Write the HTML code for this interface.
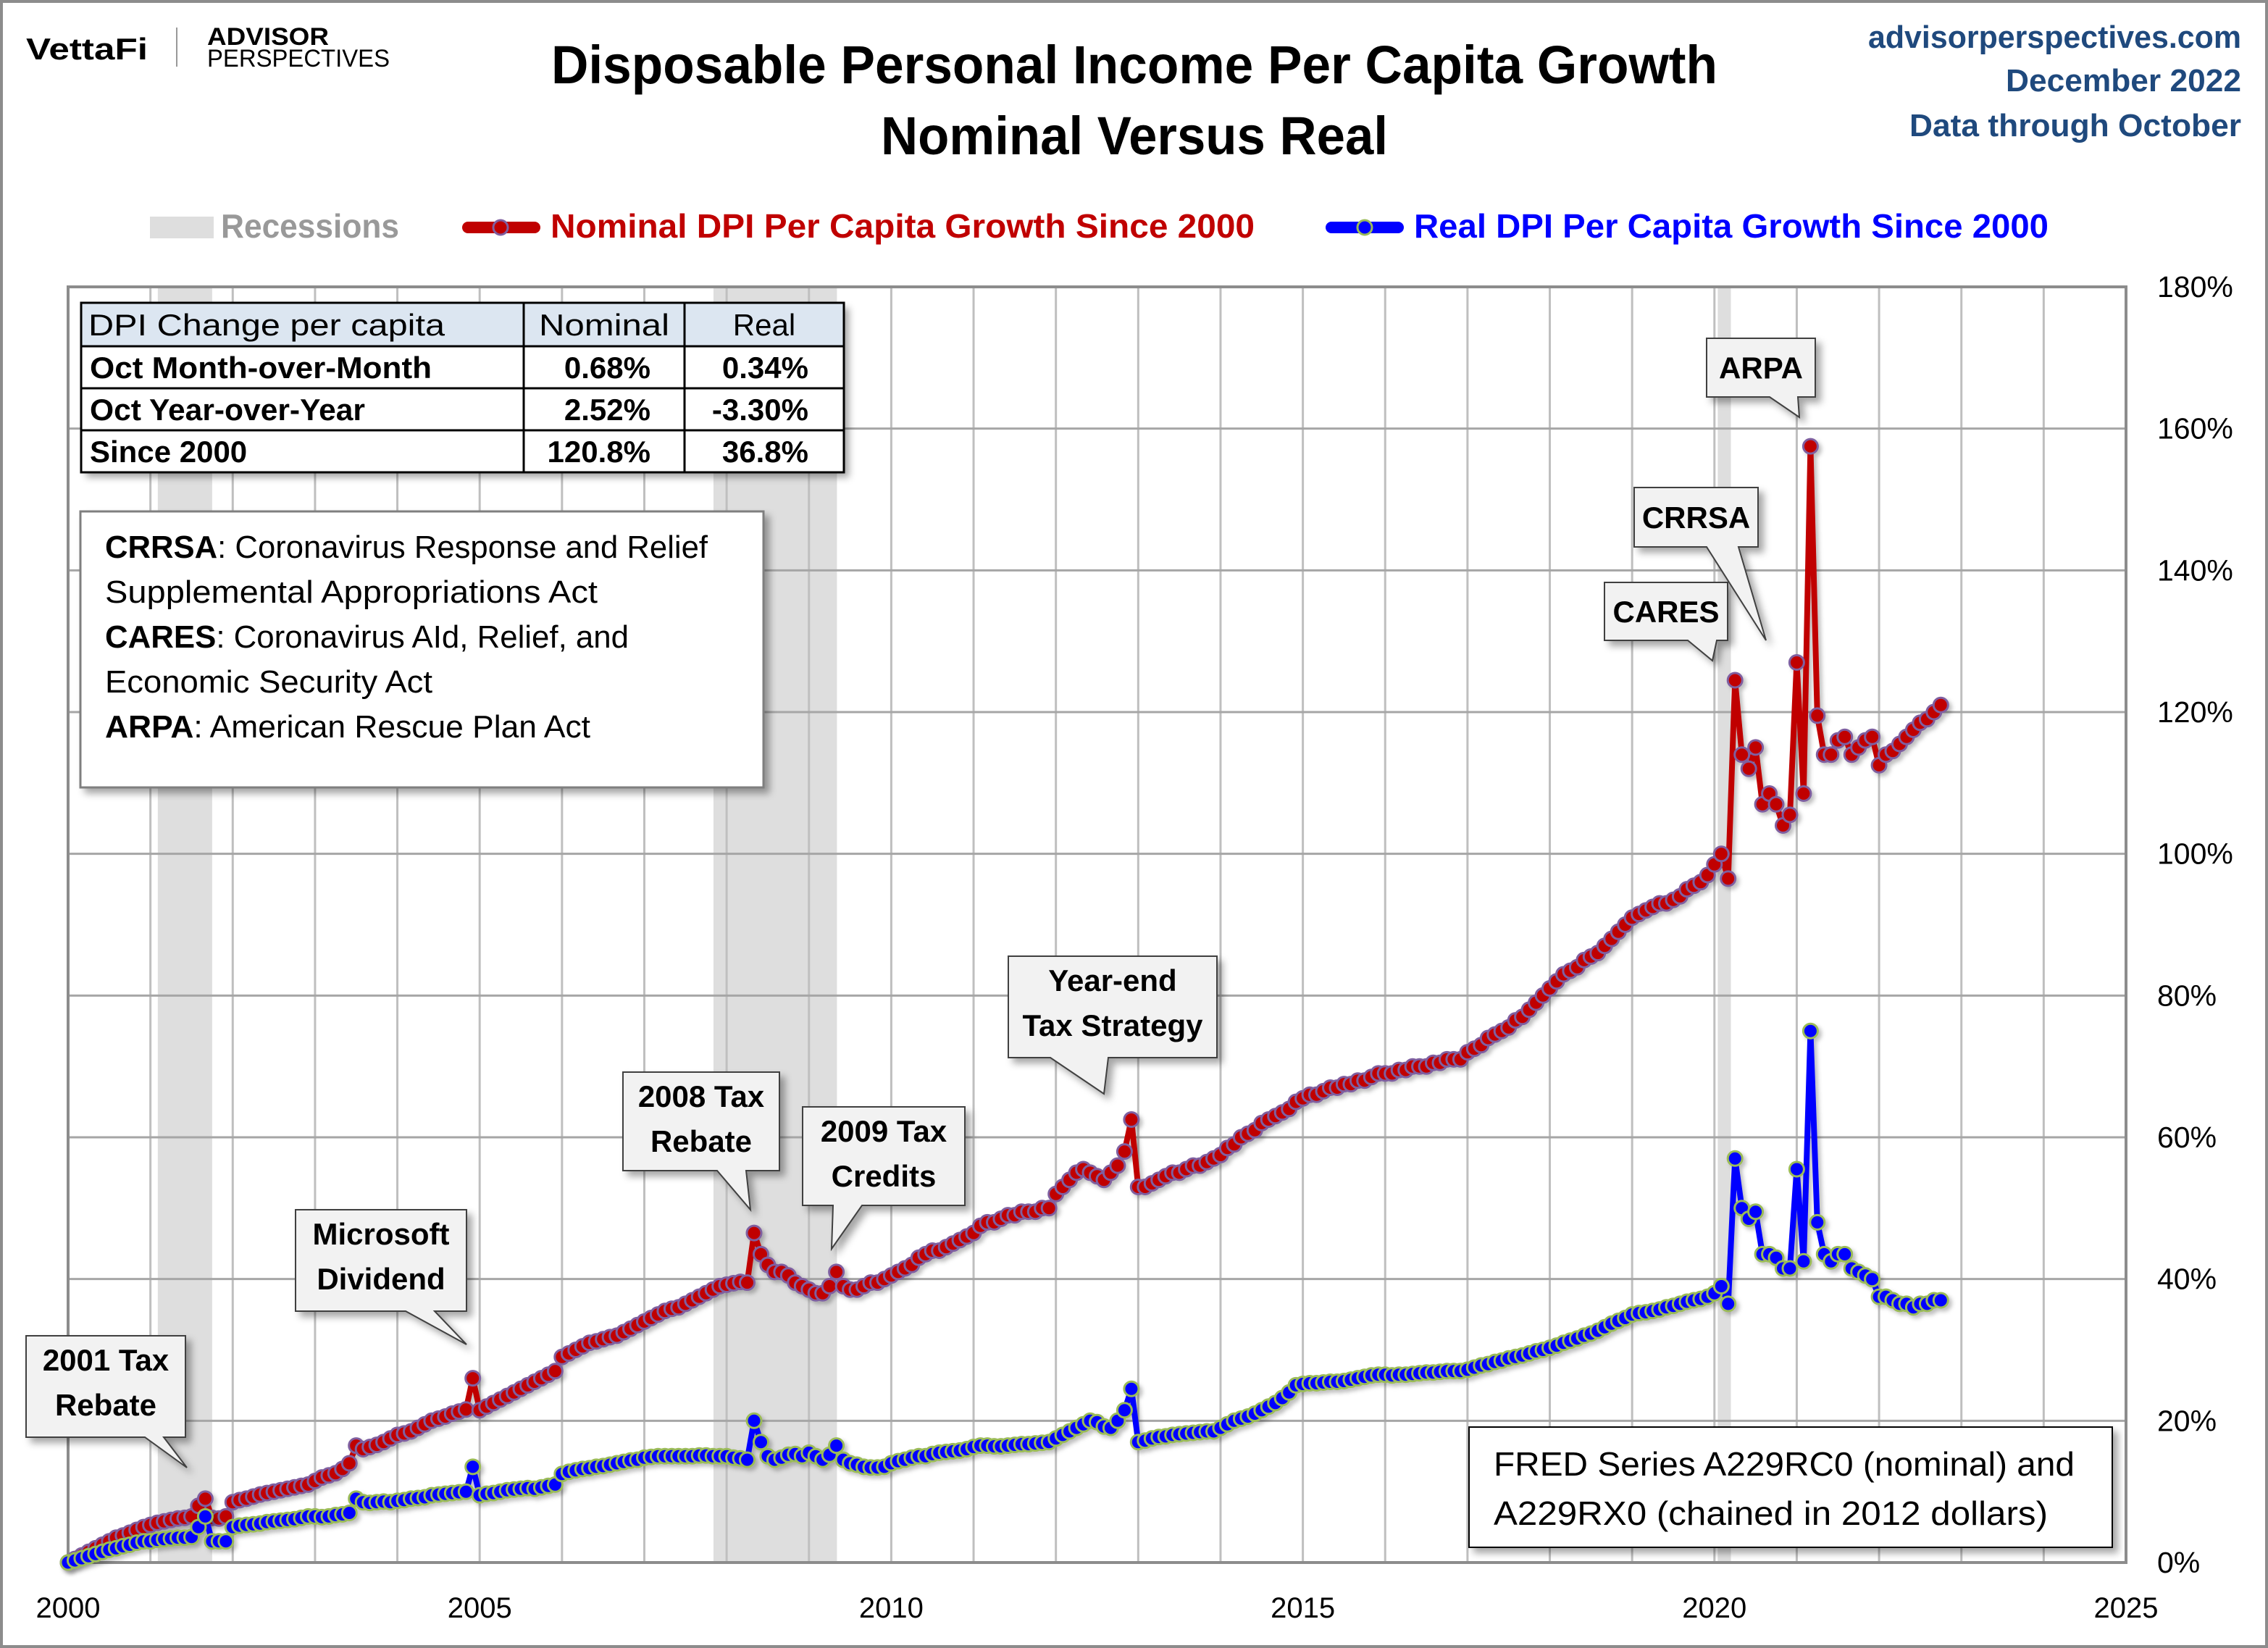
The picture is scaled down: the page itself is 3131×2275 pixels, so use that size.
<!DOCTYPE html>
<html><head><meta charset="utf-8"><style>
html,body{margin:0;padding:0;background:#fff}
svg{display:block}
text{font-family:"Liberation Sans",sans-serif}
</style></head><body>
<svg id="chart" width="3131" height="2275" viewBox="0 0 3131 2275" xmlns="http://www.w3.org/2000/svg">
<defs>
<filter id="sh" x="-10%" y="-10%" width="130%" height="130%"><feDropShadow dx="7" dy="7" stdDeviation="5" flood-color="#000" flood-opacity="0.35"/></filter>
<filter id="lsh" x="-5%" y="-5%" width="110%" height="110%"><feDropShadow dx="4" dy="4" stdDeviation="3" flood-color="#000" flood-opacity="0.25"/></filter>
</defs>
<rect x="2" y="2" width="3127" height="2271" fill="#fff" stroke="#8c8c8c" stroke-width="4"/>
<g>
<text x="36" y="82" font-size="42" font-weight="bold" textLength="168" lengthAdjust="spacingAndGlyphs">VettaFi</text>
<line x1="244" y1="38" x2="244" y2="92" stroke="#999" stroke-width="2"/>
<text x="286" y="62" font-size="34" font-weight="bold" textLength="168" lengthAdjust="spacingAndGlyphs">ADVISOR</text>
<text x="286" y="92" font-size="34" textLength="252" lengthAdjust="spacingAndGlyphs">PERSPECTIVES</text>
</g>
<text x="1566" y="115" font-size="74" font-weight="bold" text-anchor="middle" textLength="1610" lengthAdjust="spacingAndGlyphs">Disposable Personal Income Per Capita Growth</text>
<text x="1566" y="213" font-size="74" font-weight="bold" text-anchor="middle" textLength="700" lengthAdjust="spacingAndGlyphs">Nominal Versus Real</text>
<g fill="#1f497d" font-weight="bold" font-size="44" text-anchor="end">
<text x="3094" y="66" textLength="515" lengthAdjust="spacingAndGlyphs">advisorperspectives.com</text>
<text x="3094" y="126" textLength="325" lengthAdjust="spacingAndGlyphs">December 2022</text>
<text x="3094" y="188" textLength="458" lengthAdjust="spacingAndGlyphs">Data through October</text>
</g>
<g>
<g>
<rect x="207" y="299" width="88" height="30" fill="#dedede"/>
<text x="305" y="328" font-size="46" font-weight="bold" fill="#999" textLength="246" lengthAdjust="spacingAndGlyphs">Recessions</text></g>
<g>
<line x1="646" y1="314" x2="738" y2="314" stroke="#c00000" stroke-width="16" stroke-linecap="round"/>
<circle cx="691" cy="314" r="10" fill="#c00000" stroke="#7f5fa0" stroke-width="3"/>
<text x="760" y="328" font-size="46" font-weight="bold" fill="#c00000" textLength="972" lengthAdjust="spacingAndGlyphs">Nominal DPI Per Capita Growth Since 2000</text></g>
<g>
<line x1="1838" y1="314" x2="1930" y2="314" stroke="#0000ff" stroke-width="16" stroke-linecap="round"/>
<circle cx="1884" cy="314" r="10" fill="#0000ff" stroke="#9bbb59" stroke-width="3"/>
<text x="1952" y="328" font-size="46" font-weight="bold" fill="#0000ff" textLength="876" lengthAdjust="spacingAndGlyphs">Real DPI Per Capita Growth Since 2000</text></g>
</g>
<g id="rec"></g>
<g id="grid"></g>
<g id="axes"></g>
<g id="series"></g>
<g font-size="42" font-weight="bold">
<rect x="112" y="418" width="1053" height="234" fill="#fff" filter="url(#sh)"/>
<rect x="112" y="418" width="1053" height="60" fill="#dce6f1"/>
<g stroke="#000" stroke-width="3" fill="none">
<rect x="112" y="418" width="1053" height="234"/>
<line x1="112" y1="478" x2="1165" y2="478"/><line x1="112" y1="536" x2="1165" y2="536"/><line x1="112" y1="594" x2="1165" y2="594"/>
<line x1="723" y1="418" x2="723" y2="652"/><line x1="945" y1="418" x2="945" y2="652"/>
</g>
<text x="122" y="463" font-weight="normal" fill="#000" textLength="492" lengthAdjust="spacingAndGlyphs">DPI Change per capita</text>
<text x="834" y="463" text-anchor="middle" font-weight="normal" textLength="180" lengthAdjust="spacingAndGlyphs">Nominal</text>
<text x="1055" y="463" text-anchor="middle" font-weight="normal">Real</text>
<text x="124" y="522" textLength="472" lengthAdjust="spacingAndGlyphs">Oct Month-over-Month</text>
<text x="898" y="522" text-anchor="end">0.68%</text><text x="1116" y="522" text-anchor="end">0.34%</text>
<text x="124" y="580" textLength="380" lengthAdjust="spacingAndGlyphs">Oct Year-over-Year</text>
<text x="898" y="580" text-anchor="end">2.52%</text><text x="1116" y="580" text-anchor="end">-3.30%</text>
<text x="124" y="638">Since 2000</text>
<text x="898" y="638" text-anchor="end">120.8%</text><text x="1116" y="638" text-anchor="end">36.8%</text>
</g>
<g font-size="44">
<rect x="111" y="706" width="943" height="381" fill="#fff" stroke="#7f7f7f" stroke-width="3" filter="url(#sh)"/>
<text x="145" y="770" textLength="832" lengthAdjust="spacingAndGlyphs"><tspan font-weight="bold">CRRSA</tspan>: Coronavirus Response and Relief</text>
<text x="145" y="832" textLength="680" lengthAdjust="spacingAndGlyphs">Supplemental Appropriations Act</text>
<text x="145" y="894" textLength="723" lengthAdjust="spacingAndGlyphs"><tspan font-weight="bold">CARES</tspan>: Coronavirus AId, Relief, and</text>
<text x="145" y="956" textLength="452" lengthAdjust="spacingAndGlyphs">Economic Security Act</text>
<text x="145" y="1018" textLength="670" lengthAdjust="spacingAndGlyphs"><tspan font-weight="bold">ARPA</tspan>: American Rescue Plan Act</text>
</g>
<g font-size="46">
<rect x="2028" y="1970" width="888" height="166" fill="#fff" stroke="#000" stroke-width="2" filter="url(#sh)"/>
<text x="2062" y="2037" textLength="802" lengthAdjust="spacingAndGlyphs">FRED Series A229RC0 (nominal) and</text>
<text x="2062" y="2105" textLength="765" lengthAdjust="spacingAndGlyphs">A229RX0 (chained in 2012 dollars)</text>
</g>
<g id="callouts"></g>
</svg>
<script>
const nominalByYear = [
[0,0.5,1,1.5,2,2.5,3,3.5,3.8,4.2,4.6,5],
[5.3,5.6,5.8,6,6.2,6.3,6.5,8,9,6.3,6.2,6.5],
[8.5,8.8,9,9.3,9.6,9.8,10,10.2,10.4,10.6,10.8,11],
[11.5,12,12.3,12.6,13.2,14,16.5,16,16.3,16.6,17,17.5],
[18,18.2,18.5,19,19.5,20,20.3,20.6,21,21.3,21.6,26],
[21.5,22,22.5,23,23.5,24,24.5,25,25.5,26,26.5,27],
[29,29.5,30,30.5,31,31.2,31.5,31.8,32,32.5,33,33.5],
[34,34.5,35,35.5,35.8,36,36.5,37,37.5,38,38.5,39],
[39.2,39.4,39.6,39.5,46.5,43.5,42,41,41,40.5,39.5,39],
[38.5,38,38,39,41,39,38.5,38.5,39,39.5,39.5,40],
[40.5,41,41.5,42,43,43.5,44,44,44.5,45,45.5,46],
[46.5,47.5,48,48,48.5,49,49,49.5,49.5,49.5,50,50],
[52,53,54,55,55.5,55,54.5,54,55,56,58,62.5],
[53,53,53.5,54,54.5,55,55,55.5,56,56,56.5,57],
[57.5,58.5,59,60,60.5,61,62,62.5,63,63.5,64,65],
[65.5,66,66,66.5,67,67,67.5,67.5,68,68,68.5,69],
[69,69,69.5,69.5,70,70,70,70.5,70.5,71,71,71],
[72,72.5,73,74,74.5,75,75.5,76.5,77,78,79,80],
[81,82,83,83.5,84,85,85.5,86,87,88,89,90],
[91,91.5,92,92.5,93,93,93.5,94,95,95.5,96,97],
[98.5,100,96.5,124.5,114,112,115,107,108.5,107,104,105.5],
[127,108.5,157.5,119.5,114,114,116,116.5,114,115,116,116.5],
[112.5,114,114.5,115.5,116.5,117.5,118.5,119,120,121]
];
const realByYear = [
[0,0.3,0.6,0.9,1.2,1.5,1.8,2,2.3,2.5,2.8,3],
[3,3.2,3.3,3.4,3.5,3.5,3.6,5,6.5,3,3,3],
[5,5.2,5.3,5.4,5.5,5.7,5.8,5.9,6,6.1,6.3,6.5],
[6.5,6.4,6.5,6.7,6.8,7,9,8.5,8.4,8.5,8.6,8.5],
[8.7,8.8,9,9.1,9.2,9.5,9.6,9.7,9.8,9.9,10,13.5],
[9.5,9.7,9.8,10,10.2,10.3,10.4,10.5,10.4,10.6,10.8,11],
[12.5,12.8,13,13.2,13.3,13.5,13.6,13.8,14,14.2,14.4,14.5],
[14.8,14.9,15,15,15,15,15,15,15.1,15.1,15,15],
[15,14.8,14.7,14.5,20,17,15,14.5,14.8,15.2,15.3,15],
[15.5,15,14.5,15.2,16.5,14.5,14,13.8,13.5,13.4,13.4,13.5],
[14,14.3,14.5,14.8,15,15,15.3,15.5,15.6,15.7,15.8,16],
[16.3,16.5,16.5,16.4,16.4,16.5,16.6,16.7,16.7,16.8,16.9,17],
[17.5,18,18.5,19,19.5,20,19.8,19.2,19,20,21.5,24.5],
[17,17.2,17.5,17.7,17.8,18,18.1,18.2,18.3,18.4,18.5,18.5],
[19,19.5,20,20.3,20.6,21,21.5,22,22.5,23.2,24,25],
[25.2,25.3,25.3,25.4,25.5,25.5,25.6,25.8,26,26.2,26.4,26.5],
[26.5,26.4,26.5,26.5,26.6,26.7,26.8,26.8,26.9,27,27,27],
[27.2,27.5,27.8,28,28.3,28.5,28.8,29,29.2,29.5,29.8,30],
[30.3,30.6,31,31.3,31.6,32,32.3,32.7,33.2,33.7,34.1,34.5],
[35,35.2,35.3,35.5,35.7,36,36.2,36.5,36.8,37,37.2,37.5],
[38,39,36.5,57,50,48.5,49.5,43.5,43.5,43,41.5,41.5],
[55.5,42.5,75,48,43.5,42.5,43.5,43.5,41.5,41,40.5,40],
[37.5,37.5,37,36.5,36.5,36,36.5,36.5,37,37]
];
const startYear = 2000;
const xTickYears = [2000,2005,2010,2015,2020,2025];
const yTicks = [0,20,40,60,80,100,120,140,160,180];
const yTickLabels = ["0%","20%","40%","60%","80%","100%","120%","140%","160%","180%"];
const recessionStarts = [2001.09, 2007.84, 2020.04];
const recessionEnds = [2001.75, 2009.34, 2020.2];
const calloutLines = [["2001 Tax","Rebate"],["Microsoft","Dividend"],["2008 Tax","Rebate"],["2009 Tax","Credits"],["Year-end","Tax Strategy"],["CARES"],["CRRSA"],["ARPA"]];

const NS="http://www.w3.org/2000/svg";
const X0=94, X1=2935, Y0=2157, Y1=396;
const xMin=2000, xMax=2025, yMin=0, yMax=180;
function xs(t){return X0+(t-xMin)/(xMax-xMin)*(X1-X0);}
function ys(v){return Y0-(v-yMin)/(yMax-yMin)*(Y0-Y1);}
function mk(tag,attrs,parent){const e=document.createElementNS(NS,tag);for(const k in attrs)e.setAttribute(k,attrs[k]);parent.appendChild(e);return e;}

const rec=document.getElementById('rec');
for(let i=0;i<recessionStarts.length;i++){
 const r=mk('rect',{x:xs(recessionStarts[i]),y:Y1,width:xs(recessionEnds[i])-xs(recessionStarts[i]),height:Y0-Y1,fill:'#dedede'},rec);
 
 
}
const grid=document.getElementById('grid');
for(let yr=xMin+1;yr<xMax;yr++){
 const l=mk('line',{x1:xs(yr),x2:xs(yr),y1:Y1,y2:Y0,stroke:'#bfbfbf','stroke-width':3},grid);
 
 
}
for(const v of yTicks){
 if(v===0)continue;
 const l=mk('line',{x1:X0,x2:X1,y1:ys(v),y2:ys(v),stroke:'#a6a6a6','stroke-width':3},grid);
 
 
}
const axes=document.getElementById('axes');
const frame=mk('rect',{x:X0,y:Y1,width:X1-X0,height:Y0-Y1,fill:'none',stroke:'#8c8c8c','stroke-width':4},axes);


yTicks.forEach((v,i)=>{
 const t=mk('text',{x:2978,y:ys(v)+14,'font-size':41},axes);
 t.textContent=yTickLabels[i];
 
 
});
xTickYears.forEach(yr=>{
 const t=mk('text',{x:xs(yr),y:2233,'font-size':40,'text-anchor':'middle'},axes);
 t.textContent=String(yr);
 
 
});

function flat(arr){const out=[];arr.forEach((row,yi)=>row.forEach((v,m)=>out.push({t:startYear+yi+m/12,v:v})));return out;}
const series=document.getElementById('series');
function drawSeries(data,color,edge,name){
 const g=mk('g',{filter:'url(#lsh)'},series);
 
 
 const pts=flat(data);
 const p=mk('polyline',{points:pts.map(d=>xs(d.t).toFixed(1)+','+ys(d.v).toFixed(1)).join(' '),fill:'none',stroke:color,'stroke-width':8,'stroke-linejoin':'round'},g);
 
 
 pts.forEach(d=>{
  const c=mk('circle',{cx:xs(d.t).toFixed(1),cy:ys(d.v).toFixed(1),r:10,fill:color,stroke:edge,'stroke-width':3},g);
  
  
 });
}
drawSeries(nominalByYear,'#c00000','#7f5fa0','nominal-series');
drawSeries(realByYear,'#0000ff','#9bbb59','real-series');

const calloutBoxes=[[36,1844,220,140],[408,1670,236,140],[860,1480,216,136],[1108,1528,224,136],[1392,1320,288,140],[2215,804,170,80],[2256,673,171,82],[2356,467,150,81]];
const calloutTails=[[[200,226],[258,2026]],[[560,600],[644,1856]],[[990,1030],[1036,1670]],[[1150,1190],[1148,1724]],[[1450,1530],[1524,1510]],[[2330,2370],[2364,912]],[[2356,2400],[2438,884]],[[2443,2482],[2484,576]]];
const co=document.getElementById('callouts');
calloutBoxes.forEach((b,i)=>{
 const g=mk('g',{},co);
 
 
 const [x,y,w,h]=b, tl=calloutTails[i];
 const bx=y+h;
 const d=`M${x},${y} H${x+w} V${bx} H${tl[0][1]} L${tl[1][0]},${tl[1][1]} L${tl[0][0]},${bx} H${x} Z`;
 mk('path',{d:d,fill:'#f2f2f2',stroke:'#404040','stroke-width':2,filter:'url(#sh)'},g);
 const lines=calloutLines[i];
 lines.forEach((s,k)=>{
  const t=mk('text',{x:x+w/2,y:y+(lines.length===1?h/2+15:48+k*62),'font-size':42,'font-weight':'bold','text-anchor':'middle'},g);
  t.textContent=s;
 });
});
</script>
</body></html>
